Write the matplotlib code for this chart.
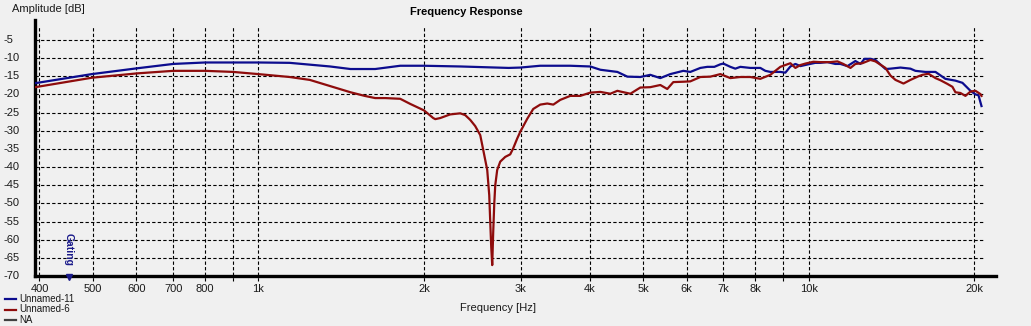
import matplotlib
matplotlib.use("Agg")
import matplotlib.pyplot as plt
from matplotlib.lines import Line2D
from matplotlib.transforms import blended_transform_factory

# measured responses (frequency in Hz, amplitude in dB)
freq_11 = [393, 498, 602, 700, 800, 900, 1000, 1140, 1350, 1470, 1630, 1810, 2000,
           2330, 2850, 2991, 3250, 3687, 4010, 4182, 4491, 4683, 4943, 5154, 5375,
           5604, 5918, 6094, 6355, 6544, 6738, 6911, 6998, 7205, 7357, 7513, 7834,
           8169, 8342, 8519, 8882, 9071, 9263, 9459, 9659, 9990, 10280, 10500, 10810,
           11180, 11420, 11760, 12160, 12420, 12630, 12950, 13220, 13790, 14080,
           14680, 15310, 15630, 16300, 17000, 17720, 18480, 19030, 19680, 20100,
           20350, 20610]
amp_11 = [-16.9, -14.4, -12.8, -11.6, -11.2, -11.2, -11.2, -11.3, -12.3, -13.0, -13.0,
          -12.1, -12.1, -12.3, -12.7, -12.6, -12.1, -12.1, -12.3, -13.2, -13.8, -15.1,
          -15.2, -14.6, -15.5, -14.4, -13.5, -13.8, -12.7, -12.4, -12.4, -11.7, -11.5,
          -12.4, -12.9, -12.4, -12.7, -12.7, -13.5, -13.8, -13.8, -14.0, -12.3, -11.6,
          -12.2, -11.7, -11.3, -11.3, -11.1, -11.6, -11.6, -12.2, -10.8, -11.6, -10.2,
          -10.2, -10.5, -13.0, -12.9, -12.6, -12.9, -13.5, -13.8, -13.8, -15.7, -16.2,
          -16.8, -19.0, -20.0, -20.2, -23.2]

freq_6 = [393, 498, 602, 700, 800, 900, 1000, 1140, 1240, 1350, 1470, 1560, 1630, 1700,
          1810, 1887, 2000, 2078, 2096, 2140, 2231, 2327, 2376, 2426, 2477, 2530, 2562,
          2605, 2627, 2638, 2649, 2660, 2671, 2683, 2694, 2716, 2751, 2809, 2868, 2905,
          2954, 2991, 3080, 3158, 3252, 3349, 3435, 3536, 3687, 3845, 4010, 4182, 4361,
          4491, 4548, 4742, 4943, 5154, 5375, 5534, 5675, 5918, 6094, 6355, 6627, 6911,
          7205, 7513, 7834, 8169, 8519, 8882, 9263, 9459, 9659, 9863, 10200, 10500,
          10950, 11280, 11560, 11910, 12160, 12520, 12950, 13220, 13790, 14080, 14380,
          14870, 15310, 15830, 16100, 16510, 17000, 17360, 17870, 18250, 18480, 18870,
          19270, 19680, 20100, 20520, 20610]
amp_6 = [-18.0, -15.4, -14.2, -13.5, -13.5, -13.8, -14.4, -15.2, -16.0, -17.7, -19.4,
         -20.4, -21.0, -21.0, -21.2, -22.6, -24.4, -26.5, -26.8, -26.5, -25.5, -25.2,
         -25.7, -27.0, -28.7, -31.2, -35.3, -40.8, -47.7, -55.0, -62.0, -67.0, -58.0,
         -50.0, -45.0, -40.8, -38.5, -37.2, -36.5, -34.8, -32.1, -30.3, -26.7, -24.0,
         -22.8, -22.5, -22.8, -21.5, -20.4, -20.4, -19.5, -19.3, -19.8, -19.0, -19.2,
         -19.8, -18.1, -18.0, -17.4, -18.5, -16.6, -16.5, -16.4, -15.2, -15.1, -14.4,
         -15.5, -15.2, -15.2, -15.7, -14.6, -12.4, -11.4, -12.7, -11.9, -11.5, -11.0,
         -11.1, -11.1, -10.9, -11.6, -12.7, -11.6, -11.4, -10.5, -10.9, -12.7, -14.8,
         -16.0, -17.0, -16.0, -15.0, -14.6, -14.3, -15.5, -16.1, -17.1, -17.9, -19.4,
         -19.6, -20.4, -19.2, -19.0, -19.9, -20.4]

grid_freqs = [400, 500, 600, 700, 800, 900, 1000, 2000, 3000, 4000, 5000, 6000,
              7000, 8000, 9000, 10000, 20000]
x_labels = {400: "400", 500: "500", 600: "600", 700: "700", 800: "800", 1000: "1k",
            2000: "2k", 3000: "3k", 4000: "4k", 5000: "5k", 6000: "6k", 7000: "7k",
            8000: "8k", 10000: "10k", 20000: "20k"}
y_levels = [-5, -10, -15, -20, -25, -30, -35, -40, -45, -50, -55, -60, -65, -70]

series = [("Unnamed-11", "#0c0c8e"), ("Unnamed-6", "#8e0c0c"), ("NA", "#404040")]

bg = "#f0f0f0"
plt.rcParams["font.family"] = ["Liberation Sans", "DejaVu Sans"]
plt.rcParams["font.size"] = 8

fig = plt.figure(figsize=(10.31, 3.26), dpi=100, facecolor=bg)
ax = fig.add_axes([35 / 1031, 50 / 326, 961 / 1031, 256 / 326], facecolor=bg)
ax.set_xscale("log")
ax.set_xlim(392.6, 21900)
ax.set_ylim(-70, 0.5)

# dashed grid
for f in grid_freqs:
    ax.vlines(f, -71.4, -1.4, colors="black", linestyles=(0, (3, 2)), lw=0.8,
              clip_on=False, zorder=1)
for lv in y_levels[:-1]:
    ax.hlines(lv, 392.6, 20700, colors="black", linestyles=(0, (3, 2)), lw=0.8, zorder=1)

ax.plot(freq_11, amp_11, color=series[0][1], lw=1.6, zorder=3)
ax.plot(freq_6, amp_6, color=series[1][1], lw=1.6, zorder=3)

for s in ["top", "right"]:
    ax.spines[s].set_visible(False)
for s in ["left", "bottom"]:
    ax.spines[s].set_linewidth(2.4)
    ax.spines[s].set_color("black")
ax.set_xticks([])
ax.set_yticks([])
ax.minorticks_off()

# tick labels
ty = blended_transform_factory(fig.transFigure, ax.transData)
for lv in y_levels:
    ax.text(4 / 1031, lv, str(lv), transform=ty, ha="left", va="center", color="#1a1a1a")
tx = blended_transform_factory(ax.transData, fig.transFigure)
for f, lab in x_labels.items():
    ax.text(f, 1 - 289 / 326, lab, transform=tx, ha="center", va="center", color="#1a1a1a")

# gating marker
ax.text(452, -62.8, "Gating", rotation=270, ha="center", va="center", color="#1a1a8a",
        fontsize=7.5, fontweight="bold")
ax.plot([452], [-70.3], marker="v", ms=5, color="#1a1a8a", clip_on=False, zorder=5)

fig.text(12 / 1031, 1 - 9 / 326, "Amplitude [dB]", ha="left", va="center", color="#1a1a1a")
fig.text(466 / 1031, 1 - 12 / 326, "Frequency Response", ha="center", va="center",
         fontweight="bold", color="black")
fig.text(498 / 1031, 1 - 308 / 326, "Frequency [Hz]", ha="center", va="center",
         color="#1a1a1a")

# legend
for i, (name, col) in enumerate(series):
    y = 1 - (299 + 10.5 * i) / 326
    fig.add_artist(Line2D([5 / 1031, 16 / 1031], [y, y], color=col, lw=1.6))
    fig.text(19 / 1031, y, name, ha="left", va="center", fontsize=7, color="#1a1a1a")

fig.savefig("out.png", dpi=100, facecolor=bg)
